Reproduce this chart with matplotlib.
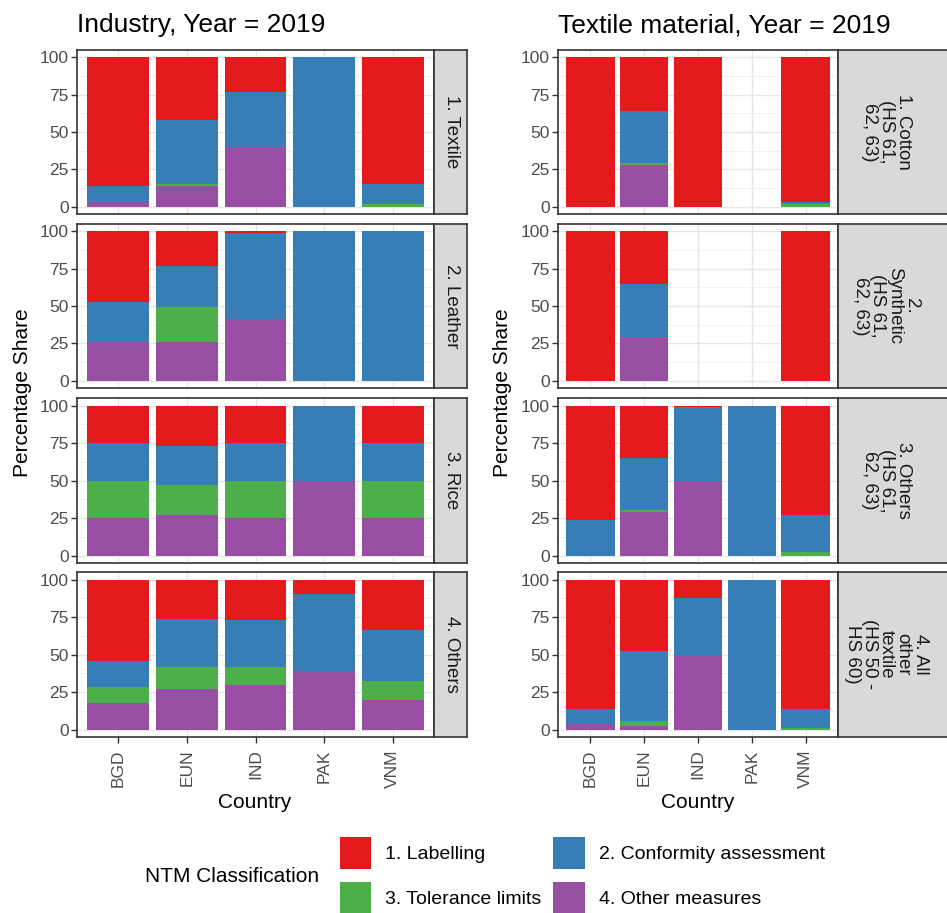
import numpy as np
import matplotlib
matplotlib.use("Agg")
import matplotlib.pyplot as plt
from matplotlib.patches import Patch

plt.rcParams['font.family'] = ['Liberation Sans', 'DejaVu Sans']

countries = ['BGD', 'EUN', 'IND', 'PAK', 'VNM']
measures = ['1. Labelling', '2. Conformity assessment', '3. Tolerance limits', '4. Other measures']
measure_colors = ['#E41A1C', '#377EB8', '#4DAF4A', '#984EA3']

industry_rows = ['1. Textile', '2. Leather', '3. Rice', '4. Others']
material_rows = ['1. Cotton\n(HS 61,\n62, 63)', '2.\nSynthetic\n(HS 61,\n62, 63)',
                 '3. Others\n(HS 61,\n62, 63)', '4. All\nother\ntextile\n(HS 50 -\nHS 60)']

# shares (%) per facet row x country
ind_labelling = [[86, 42, 23, 0, 85], [47, 23, 1, 0, 0], [25, 27, 25, 0, 25], [54, 26, 27, 9.5, 33.5]]
ind_conformity = [[11, 43, 37, 100, 13.5], [27, 28, 58, 100, 100], [25, 26, 25, 50, 25], [17.5, 32, 31, 51.5, 34]]
ind_tolerance = [[0, 1, 0, 0, 1.5], [0, 23, 0, 0, 0], [25, 20, 25, 0, 25], [10.5, 15, 12, 0, 12.5]]
ind_other = [[3, 14, 40, 0, 0], [26, 26, 41, 0, 0], [25, 27, 25, 50, 25], [18, 27, 30, 39, 20]]

mat_labelling = [[100, 36, 100, 0, 97], [100, 35, 0, 0, 100], [76, 35, 1, 0, 73], [86, 47.5, 12, 0, 86]]
mat_conformity = [[0, 35, 0, 0, 1.5], [0, 36, 0, 0, 0], [24, 34.5, 49, 100, 24.5], [10, 47, 39, 100, 13]]
mat_tolerance = [[0, 1, 0, 0, 1.5], [0, 0, 0, 0, 0], [0, 1.5, 0, 0, 2.5], [0, 3, 0, 0, 1]]
mat_other = [[0, 28, 0, 0, 0], [0, 29, 0, 0, 0], [0, 29, 50, 0, 0], [4, 2.5, 49, 0, 0]]

W, H = 947, 913
fig = plt.figure(figsize=(W / 100, H / 100), dpi=100)


def rect(x0, y0, x1, y1):
    # pixel box (top-left origin) -> figure fraction
    return [x0 / W, 1 - y1 / H, (x1 - x0) / W, (y1 - y0) / H]


row_px = [(50, 214), (224, 388), (398, 563), (572, 737)]
border = '#333333'


def draw_panel(x0, x1, sx1, text_x, rows, labelling, conformity, tolerance, other):
    for i, (top, bot) in enumerate(row_px):
        ax = fig.add_axes(rect(x0, top, x1, bot))
        base = np.zeros(len(countries))
        stack = [(other, measure_colors[3]), (tolerance, measure_colors[2]),
                 (conformity, measure_colors[1]), (labelling, measure_colors[0])]
        for vals, col in stack:
            v = np.array(vals[i], dtype=float)
            ax.bar(countries, v, bottom=base, width=0.9, color=col, linewidth=0)
            base += v
        ax.set_xlim(-0.6, 4.6)
        ax.set_ylim(-5, 105)
        ax.set_yticks([0, 25, 50, 75, 100])
        ax.set_yticks([12.5, 37.5, 62.5, 87.5], minor=True)
        ax.set_axisbelow(True)
        ax.grid(which='major', color='#E6E6E6', linewidth=1.0)
        ax.grid(which='minor', axis='y', color='#F0F0F0', linewidth=0.6)
        ax.tick_params(which='minor', length=0)
        ax.tick_params(axis='both', length=4, width=1, color=border,
                       labelcolor='#4D4D4D', labelsize=12.5, pad=2)
        if i < 3:
            ax.tick_params(axis='x', length=0, labelbottom=False)
        else:
            ax.tick_params(axis='x', labelrotation=90, pad=5)
        for s in ax.spines.values():
            s.set_color(border)
            s.set_linewidth(1.2)

        sax = fig.add_axes(rect(x1, top, sx1, bot))
        sax.set_facecolor('#D9D9D9')
        sax.set_xticks([])
        sax.set_yticks([])
        for s in sax.spines.values():
            s.set_color(border)
            s.set_linewidth(1.2)
        sax.text((text_x - x1) / (sx1 - x1), 0.5, rows[i], rotation=-90,
                 ha='center', va='center', multialignment='center',
                 fontsize=13.5, color='#1A1A1A', linespacing=1.0,
                 transform=sax.transAxes)


draw_panel(77, 434, 467, 451, industry_rows, ind_labelling, ind_conformity, ind_tolerance, ind_other)
draw_panel(558, 838, 960, 886, material_rows, mat_labelling, mat_conformity, mat_tolerance, mat_other)

# titles and axis labels
fig.text(77 / W, 1 - 25 / H, 'Industry, Year = 2019', fontsize=19, ha='left', va='center', color='#000000')
fig.text(558 / W, 1 - 25 / H, 'Textile material, Year = 2019', fontsize=19, ha='left', va='center', color='#000000')
fig.text(22 / W, 1 - 393 / H, 'Percentage Share', fontsize=15, rotation=90, ha='center', va='center')
fig.text(503 / W, 1 - 393 / H, 'Percentage Share', fontsize=15, rotation=90, ha='center', va='center')
fig.text(255 / W, 1 - 802 / H, 'Country', fontsize=15, ha='center', va='center')
fig.text(698 / W, 1 - 802 / H, 'Country', fontsize=15, ha='center', va='center')

# legend (filled row-wise like ggplot)
handles = [Patch(facecolor=c, edgecolor='none') for c in measure_colors]
order = [0, 2, 1, 3]
fig.legend([handles[k] for k in order], [measures[k] for k in order], ncol=2,
           loc='upper left', bbox_to_anchor=(340 / W, 1 - 837 / H), frameon=False,
           fontsize=14, handlelength=1.6, handleheight=2.16, labelspacing=0.67,
           handletextpad=0.72, columnspacing=0.62, borderpad=0, borderaxespad=0)
fig.text(145 / W, 1 - 876 / H, 'NTM Classification', fontsize=15, ha='left', va='center')

fig.savefig('out.png', dpi=100)
